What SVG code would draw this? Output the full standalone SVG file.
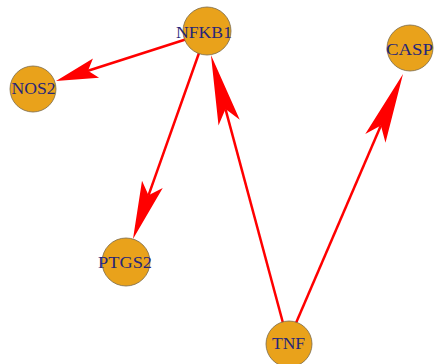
<svg xmlns="http://www.w3.org/2000/svg" width="434" height="364" viewBox="0 0 434 364">
<style>
.edge{stroke:#ff0000;stroke-width:2.5;fill:none}
.node circle{fill:#e9a21b;stroke:#7a6a4a;stroke-width:0.8}
.node text{font-family:"Liberation Serif","Times New Roman",serif;font-size:17px;fill:#26267a;text-anchor:middle}
</style>
<defs>
<marker id="a42" markerUnits="userSpaceOnUse" orient="auto" refX="0" refY="0" markerWidth="60" markerHeight="30" overflow="visible"><path d="M33.6,0 L-8.4,-10 L0,0 L-8.4,10 Z" fill="#ff0000"/></marker>
<marker id="a58" markerUnits="userSpaceOnUse" orient="auto" refX="0" refY="0" markerWidth="70" markerHeight="30" overflow="visible"><path d="M46.4,0 L-11.6,-11 L0,0 L-11.6,11 Z" fill="#ff0000"/></marker>
<marker id="a70" markerUnits="userSpaceOnUse" orient="auto" refX="0" refY="0" markerWidth="80" markerHeight="30" overflow="visible"><path d="M56,0 L-14,-11 L0,0 L-14,11 Z" fill="#ff0000"/></marker>
</defs>
<rect width="434" height="364" fill="#ffffff"/>
<g id="edges">
<line class="edge" x1="187" y1="39" x2="88" y2="70.7" marker-end="url(#a42)"/>
<line class="edge" x1="199" y1="53" x2="148.5" y2="195.3" marker-end="url(#a58)"/>
<line class="edge" x1="283" y1="323" x2="225.5" y2="109.1" marker-end="url(#a70)"/>
<line class="edge" x1="296" y1="323" x2="380.9" y2="125.5" marker-end="url(#a70)"/>
</g>
<g id="NFKB1" class="node"><circle cx="207" cy="31" r="24"/><text x="204" y="38" textLength="56" lengthAdjust="spacingAndGlyphs">NFKB1</text></g>
<g id="NOS2" class="node"><circle cx="33" cy="89" r="23"/><text x="33.5" y="94" textLength="44" lengthAdjust="spacingAndGlyphs">NOS2</text></g>
<g id="PTGS2" class="node"><circle cx="126" cy="262" r="24"/><text x="125" y="268" textLength="54" lengthAdjust="spacingAndGlyphs">PTGS2</text></g>
<g id="TNF" class="node"><circle cx="289" cy="344" r="23"/><text x="288.5" y="349" textLength="33" lengthAdjust="spacingAndGlyphs">TNF</text></g>
<g id="CASP" class="node"><circle cx="410" cy="48" r="23"/><text x="386" y="55" style="text-anchor:start" textLength="47" lengthAdjust="spacingAndGlyphs">CASP</text></g>
</svg>
